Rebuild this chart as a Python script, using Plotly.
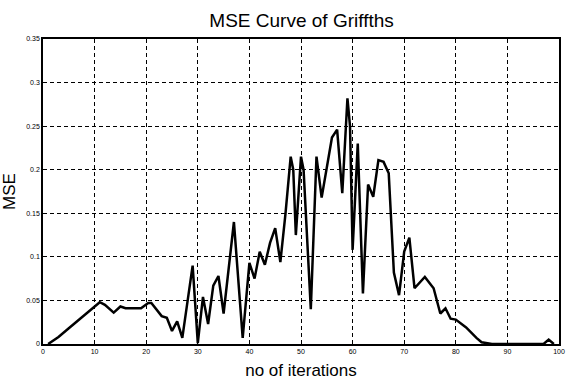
import plotly.graph_objects as go

iterations = [1, 3, 5, 7, 9, 11, 12, 13.7, 15, 16, 19, 20.4, 21, 23, 24, 25, 26, 27, 29, 30, 31, 32, 33, 34, 35,
              37, 38.7, 40, 41, 42, 43, 44, 45, 46, 47, 48, 48.5, 49, 50, 50.5, 51.9, 53, 54, 56, 57, 58, 59, 59.5,
              60, 61, 62, 63, 64, 65, 66, 67, 68, 69, 70, 71, 72, 74, 75.7, 77, 78, 79, 80, 82, 84, 85, 87, 95, 97,
              98, 99]
mse = [0.0, 0.008, 0.018, 0.028, 0.038, 0.048, 0.045, 0.036, 0.043, 0.041, 0.041, 0.047, 0.047, 0.032, 0.03,
       0.015, 0.026, 0.007, 0.09, 0.001, 0.054, 0.023, 0.067, 0.078, 0.035,
       0.14, 0.007, 0.093, 0.075, 0.106, 0.091, 0.116, 0.133, 0.094, 0.15, 0.215, 0.2, 0.125, 0.215, 0.2, 0.04,
       0.215, 0.168, 0.237, 0.246, 0.173, 0.282, 0.25,
       0.108, 0.23, 0.058, 0.183, 0.169, 0.211, 0.209, 0.196, 0.082, 0.056, 0.106, 0.122, 0.064, 0.077, 0.064,
       0.035, 0.041, 0.029, 0.028, 0.019, 0.007, 0.002, 0.0, 0.0, 0.0, 0.005, 0.0]

x_ticks = [0, 10, 20, 30, 40, 50, 60, 70, 80, 90, 100]
y_ticks = [0, 0.05, 0.1, 0.15, 0.2, 0.25, 0.3, 0.35]
y_tick_labels = ["0", "0.05", "0.1", "0.15", "0.2", "0.25", "0.3", "0.35"]

fig = go.Figure()
fig.add_trace(go.Scatter(x=iterations, y=mse, mode="lines",
                         line=dict(color="black", width=2.5), showlegend=False))

axis_common = dict(showline=True, linecolor="black", linewidth=1.5, mirror=True,
                   showgrid=True, gridcolor="black", griddash="4px,3px", gridwidth=1,
                   zeroline=False, ticks="", tickfont=dict(size=7, color="black",
                                                          family="Liberation Sans"))
fig.update_xaxes(range=[0, 100], tickvals=x_ticks, **axis_common,
                 title=dict(text="no of iterations", standoff=10,
                            font=dict(size=17, color="black", family="Liberation Sans Narrow, Liberation Sans")))
fig.update_yaxes(range=[0, 0.35], tickvals=y_ticks, ticktext=y_tick_labels, **axis_common,
                 title=dict(text="MSE", standoff=8,
                            font=dict(size=17, color="black", family="Liberation Sans Narrow, Liberation Sans")))

fig.update_layout(
    width=569, height=388,
    margin=dict(l=43, r=4, t=39, b=44),
    paper_bgcolor="white", plot_bgcolor="white",
    title=dict(text="MSE Curve of Griffths", x=0.53, xanchor="center", y=0.948, yanchor="middle",
               font=dict(size=19, color="black", family="Liberation Sans Narrow, Liberation Sans")),
)

fig.write_html("out.html")
